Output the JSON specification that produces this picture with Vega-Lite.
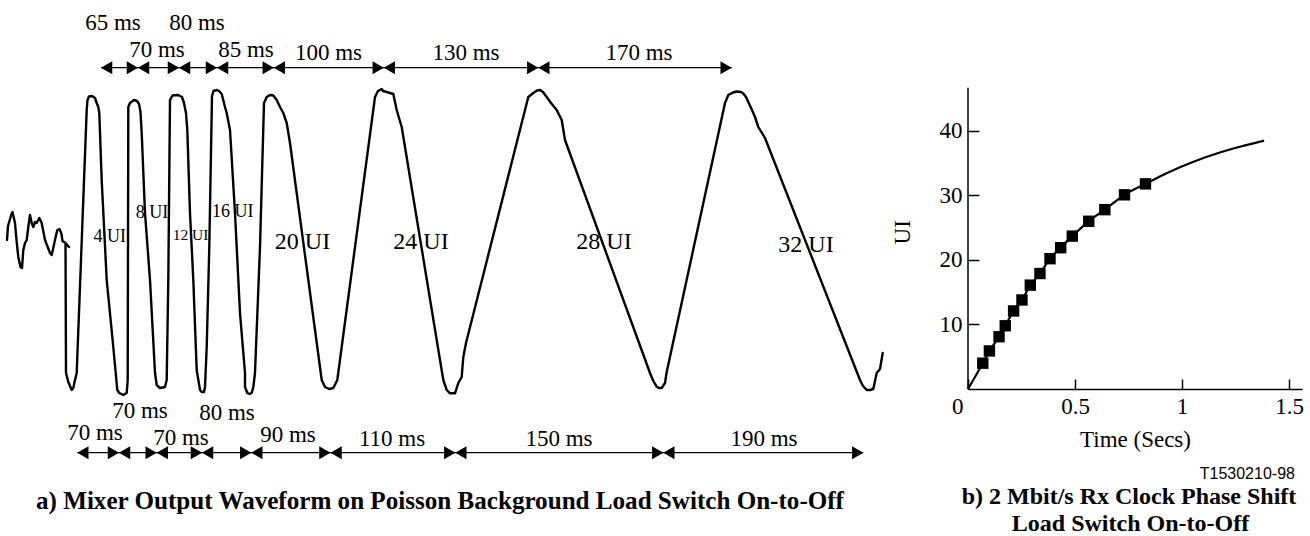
{
  "$schema": "https://vega.github.io/schema/vega-lite/v6.json",
  "background": "white",
  "padding": 0,
  "spacing": 78,
  "bounds": "flush",
  "config": {"view": {"stroke": null}, "font": "Liberation Serif"},
  "datasets": {
    "wave": [
      {"x":7,"y":240},{"x":8,"y":226},{"x":11.5,"y":214},{"x":12.5,"y":212},{"x":15,"y":223},{"x":16.5,"y":240},{"x":18.3,"y":257},{"x":20.5,"y":267},{"x":22,"y":268},{"x":23.3,"y":250},{"x":25,"y":243},{"x":26.7,"y":240},{"x":28.3,"y":227},{"x":30,"y":215},{"x":31.7,"y":223},{"x":33.3,"y":227},{"x":35,"y":222},{"x":36.7,"y":223},{"x":39.3,"y":218},{"x":41.7,"y":223},{"x":45,"y":240},{"x":50,"y":253},{"x":51.7,"y":255},{"x":55,"y":240},{"x":57.3,"y":230},{"x":59.5,"y":229},{"x":61.5,"y":234},{"x":62.5,"y":241},{"x":65.5,"y":243},{"x":69,"y":247},{"x":65.5,"y":243},
      {"x":66,"y":373},{"x":68.3,"y":382},{"x":71.7,"y":390},{"x":73.3,"y":388},{"x":75,"y":380},{"x":76.7,"y":373},
      {"x":86.7,"y":110},{"x":87.5,"y":100},{"x":89,"y":96.5},{"x":92,"y":96},{"x":95,"y":98},{"x":96.7,"y":103},{"x":98.3,"y":107},{"x":99.3,"y":113},
      {"x":101.7,"y":180},{"x":106.7,"y":280},{"x":113.3,"y":347},{"x":117.3,"y":390},{"x":119.3,"y":393},
      {"x":123.3,"y":395},{"x":126.7,"y":393},{"x":127.7,"y":380},
      {"x":128.3,"y":107},{"x":130,"y":103},{"x":134,"y":100},{"x":137,"y":101},{"x":139,"y":104},{"x":140.5,"y":112},{"x":141.7,"y":133},
      {"x":145,"y":213},{"x":150,"y":280},{"x":155,"y":373},{"x":156.7,"y":385},
      {"x":160,"y":388},{"x":165,"y":387},{"x":166.7,"y":380},
      {"x":168.3,"y":280},{"x":170,"y":100},{"x":172.5,"y":95.5},{"x":178,"y":95},{"x":182,"y":97},{"x":184,"y":103},{"x":186,"y":113},{"x":187.3,"y":130},
      {"x":190,"y":213},{"x":193.3,"y":280},{"x":196.7,"y":370},{"x":200,"y":390},
      {"x":201.7,"y":392},{"x":204,"y":392},{"x":205,"y":387},
      {"x":206.7,"y":347},{"x":209.3,"y":247},{"x":212,"y":96},{"x":213.5,"y":91},{"x":217,"y":90},{"x":219,"y":91},{"x":221.7,"y":94},{"x":225,"y":107},{"x":226.7,"y":113},{"x":230,"y":130},
      {"x":235,"y":213},{"x":240,"y":313},{"x":245,"y":373},{"x":245,"y":387},{"x":247.3,"y":393},
      {"x":249.5,"y":394},{"x":251.7,"y":393},{"x":253.3,"y":387},
      {"x":255,"y":373},{"x":260,"y":247},{"x":264,"y":103},{"x":266.7,"y":97},{"x":270,"y":95},{"x":273.3,"y":95.5},{"x":276.7,"y":100},{"x":280,"y":107},{"x":283.3,"y":113},{"x":286.7,"y":123},{"x":290,"y":143},
      {"x":321.7,"y":380},{"x":325,"y":387},{"x":329,"y":389},{"x":333.3,"y":388},{"x":337.3,"y":380},
      {"x":375,"y":97},{"x":378,"y":91},{"x":381.7,"y":89},{"x":383,"y":91},{"x":386.7,"y":92},{"x":390,"y":93},{"x":393.3,"y":94},{"x":396.7,"y":110},{"x":401.7,"y":127},
      {"x":443.3,"y":380},{"x":446.7,"y":390},{"x":450,"y":393.3},{"x":455,"y":393.3},{"x":458.3,"y":383},{"x":461.7,"y":377},{"x":463.3,"y":357},{"x":466,"y":343},
      {"x":528.3,"y":97},{"x":533.3,"y":93},{"x":537,"y":90.5},{"x":540,"y":90},{"x":543,"y":92},{"x":546.7,"y":97},{"x":551,"y":103},{"x":556.7,"y":110},{"x":561.7,"y":120},{"x":565,"y":140},
      {"x":650,"y":373},{"x":653.3,"y":381},{"x":656.7,"y":386.7},{"x":659,"y":388},{"x":661.7,"y":388},{"x":665,"y":383},{"x":666.7,"y":372},
      {"x":725,"y":103},{"x":728.3,"y":95},{"x":733,"y":92.5},{"x":736.7,"y":91.5},{"x":741,"y":92},{"x":743.3,"y":93.5},{"x":746,"y":97},{"x":748.3,"y":102},{"x":752,"y":110},{"x":755,"y":117},{"x":758.3,"y":127},{"x":765,"y":138},
      {"x":860,"y":380},{"x":863,"y":386},{"x":866.7,"y":390},{"x":870,"y":390},{"x":873.3,"y":389},{"x":876.7,"y":373},{"x":880,"y":369},{"x":882.7,"y":353}
    ],
    "arrowLines": [
      {"x":101,"x2":731.7,"y":67.7},
      {"x":77.3,"x2":863.3,"y":452.7}
    ],
    "heads": [
      {"x":101,"y":67.7,"dir":"left"},
      {"x":138,"y":67.7,"dir":"right"},{"x":138,"y":67.7,"dir":"left"},
      {"x":179,"y":67.7,"dir":"right"},{"x":179,"y":67.7,"dir":"left"},
      {"x":217,"y":67.7,"dir":"right"},{"x":217,"y":67.7,"dir":"left"},
      {"x":273.8,"y":67.7,"dir":"right"},{"x":273.8,"y":67.7,"dir":"left"},
      {"x":383.8,"y":67.7,"dir":"right"},{"x":383.8,"y":67.7,"dir":"left"},
      {"x":538.3,"y":67.7,"dir":"right"},{"x":538.3,"y":67.7,"dir":"left"},
      {"x":731.7,"y":67.7,"dir":"right"},
      {"x":77.3,"y":452.7,"dir":"left"},
      {"x":119,"y":452.7,"dir":"right"},{"x":119,"y":452.7,"dir":"left"},
      {"x":156.7,"y":452.7,"dir":"right"},{"x":156.7,"y":452.7,"dir":"left"},
      {"x":202,"y":452.7,"dir":"right"},{"x":202,"y":452.7,"dir":"left"},
      {"x":251.3,"y":452.7,"dir":"right"},{"x":251.3,"y":452.7,"dir":"left"},
      {"x":330.5,"y":452.7,"dir":"right"},{"x":330.5,"y":452.7,"dir":"left"},
      {"x":455.3,"y":452.7,"dir":"right"},{"x":455.3,"y":452.7,"dir":"left"},
      {"x":663.3,"y":452.7,"dir":"right"},{"x":663.3,"y":452.7,"dir":"left"},
      {"x":863.3,"y":452.7,"dir":"right"}
    ],
    "msLabels": [
      {"x":113,"y":30,"text":"65 ms"},
      {"x":197,"y":30,"text":"80 ms"},
      {"x":157,"y":56.7,"text":"70 ms"},
      {"x":246,"y":56.7,"text":"85 ms"},
      {"x":328.5,"y":60,"text":"100 ms"},
      {"x":466,"y":60,"text":"130 ms"},
      {"x":639,"y":60,"text":"170 ms"},
      {"x":140,"y":418.3,"text":"70 ms"},
      {"x":227,"y":420,"text":"80 ms"},
      {"x":95,"y":440,"text":"70 ms"},
      {"x":181,"y":445,"text":"70 ms"},
      {"x":288,"y":442.3,"text":"90 ms"},
      {"x":392,"y":446,"text":"110 ms"},
      {"x":559,"y":446,"text":"150 ms"},
      {"x":764,"y":446,"text":"190 ms"}
    ],
    "uiLabels": [
      {"x":109.7,"y":241.7,"ui":4,"text":"4 UI"},
      {"x":152,"y":218.3,"ui":8,"text":"8 UI"},
      {"x":190.5,"y":240,"ui":12,"text":"12 UI"},
      {"x":232.8,"y":216.7,"ui":16,"text":"16 UI"},
      {"x":302.5,"y":249.3,"ui":20,"text":"20 UI"},
      {"x":421,"y":249.3,"ui":24,"text":"24 UI"},
      {"x":604,"y":249.3,"ui":28,"text":"28 UI"},
      {"x":806,"y":251.7,"ui":32,"text":"32 UI"}
    ],
    "captionA": [
      {"x":440,"y":509,"text":"a) Mixer Output Waveform on Poisson Background Load Switch On-to-Off"}
    ],
    "curve": [
      {"t":0,"ui":0},{"t":0.069,"ui":4},{"t":0.1,"ui":5.9},{"t":0.145,"ui":8.1},{"t":0.174,"ui":9.8},{"t":0.213,"ui":12.1},{"t":0.252,"ui":13.8},{"t":0.291,"ui":16.1},{"t":0.336,"ui":17.9},{"t":0.383,"ui":20.2},{"t":0.433,"ui":21.9},{"t":0.487,"ui":23.7},{"t":0.564,"ui":26},{"t":0.639,"ui":27.8},{"t":0.731,"ui":30.1},{"t":0.829,"ui":31.8},{"t":0.93,"ui":33.5},{"t":1.05,"ui":35.2},{"t":1.18,"ui":36.7},{"t":1.3,"ui":37.8},{"t":1.383,"ui":38.5}
    ],
    "squares": [
      {"t":0.069,"ui":4},{"t":0.1,"ui":5.9},{"t":0.145,"ui":8.1},{"t":0.174,"ui":9.8},{"t":0.213,"ui":12.1},{"t":0.252,"ui":13.8},{"t":0.291,"ui":16.1},{"t":0.336,"ui":17.9},{"t":0.383,"ui":20.2},{"t":0.433,"ui":21.9},{"t":0.487,"ui":23.7},{"t":0.564,"ui":26},{"t":0.639,"ui":27.8},{"t":0.731,"ui":30.1},{"t":0.829,"ui":31.8}
    ],
    "yAxisLine": [{"t":0,"ui":0,"ui2":46.7}],
    "captionB": [
      {"t":0.752,"ui":-17.83,"text":"b) 2 Mbit/s Rx Clock Phase Shift"},
      {"t":0.759,"ui":-22.0,"text":"Load Switch On-to-Off"}
    ],
    "figId": [{"t":1.527,"ui":-14.0,"text":"T1530210-98"}],
    "yTitle": [{"t":-0.304,"ui":24.3,"text":"UI"}]
  },
  "hconcat": [
    {
      "width": 890,
      "height": 536,
      "encoding": {
        "x": {"field":"x","type":"quantitative","scale":{"domain":[0,890],"nice":false,"zero":false},"axis":null},
        "y": {"field":"y","type":"quantitative","scale":{"domain":[0,536],"nice":false,"zero":false,"reverse":true},"axis":null}
      },
      "layer": [
        {
          "data": {"name":"wave"},
          "mark": {"type":"line","color":"black","strokeWidth":2.4,"strokeJoin":"round","strokeCap":"round"},
          "encoding": {"order": {"value": null}}
        },
        {
          "data": {"name":"arrowLines"},
          "mark": {"type":"rule","color":"black","strokeWidth":1.2},
          "encoding": {"x2": {"field":"x2"}}
        },
        {
          "data": {"name":"heads"},
          "transform": [{"filter":"datum.dir == 'left'"}],
          "mark": {"type":"point","shape":"triangle-left","filled":true,"color":"black","opacity":1,"size":169,"xOffset":5.6,"strokeWidth":0}
        },
        {
          "data": {"name":"heads"},
          "transform": [{"filter":"datum.dir == 'right'"}],
          "mark": {"type":"point","shape":"triangle-right","filled":true,"color":"black","opacity":1,"size":169,"xOffset":-5.6,"strokeWidth":0}
        },
        {
          "data": {"name":"msLabels"},
          "mark": {"type":"text","font":"Liberation Serif","fontSize":23,"align":"center","baseline":"alphabetic","color":"black"},
          "encoding": {"text": {"field":"text"}}
        },
        {
          "data": {"name":"uiLabels"},
          "mark": {"type":"text","font":"Liberation Serif","align":"center","baseline":"alphabetic","color":"black"},
          "encoding": {
            "text": {"field":"text"},
            "size": {"field":"ui","type":"quantitative","scale":{"type":"threshold","domain":[12,13,18],"range":[18,15.5,18,24]},"legend":null}
          }
        },
        {
          "data": {"name":"captionA"},
          "mark": {"type":"text","font":"Liberation Serif","fontWeight":"bold","fontSize":25.1,"align":"center","baseline":"alphabetic","color":"black"},
          "encoding": {"text": {"field":"text"}}
        }
      ]
    },
    {
      "width": 334,
      "height": 389,
      "encoding": {
        "x": {"field":"t","type":"quantitative","scale":{"domain":[0,1.56],"nice":false,"zero":false}},
        "y": {"field":"ui","type":"quantitative","scale":{"domain":[0,60.3],"nice":false,"zero":false}}
      },
      "layer": [
        {
          "data": {"name":"curve"},
          "mark": {"type":"line","color":"black","strokeWidth":2.2,"interpolate":"monotone"},
          "encoding": {
            "x": {"field":"t","type":"quantitative","title":"Time (Secs)",
              "axis": {"values":[0,0.5,1,1.5],"format":"~g","domain":true,"domainColor":"black","domainWidth":1.5,"tickColor":"black","tickWidth":1.5,"tickSize":-10,"labelPadding":16,"labelFont":"Liberation Serif","labelFontSize":23,"labelColor":"black","labelAlign":{"expr":"datum.value == 0 ? 'right' : 'center'"},"labelOffset":{"expr":"datum.value == 0 ? -5 : 0"},"grid":false,"titleFont":"Liberation Serif","titleFontSize":23,"titleFontWeight":"normal","titleColor":"black","titlePadding":10}},
            "y": {"field":"ui","type":"quantitative","title":null,
              "axis": {"values":[10,20,30,40],"domain":false,"tickColor":"black","tickWidth":1.5,"tickSize":-11,"labelPadding":17,"labelFont":"Liberation Serif","labelFontSize":23,"labelColor":"black","grid":false}}
          }
        },
        {
          "data": {"name":"squares"},
          "mark": {"type":"point","shape":"square","filled":true,"color":"black","opacity":1,"size":130}
        },
        {
          "data": {"name":"yAxisLine"},
          "mark": {"type":"rule","color":"black","strokeWidth":1.5},
          "encoding": {"y2": {"field":"ui2"}}
        },
        {
          "data": {"name":"captionB"},
          "mark": {"type":"text","font":"Liberation Serif","fontWeight":"bold","fontSize":24,"align":"center","baseline":"alphabetic","color":"black"},
          "encoding": {"text": {"field":"text"}}
        },
        {
          "data": {"name":"figId"},
          "mark": {"type":"text","font":"Liberation Sans","fontSize":16,"align":"right","baseline":"alphabetic","color":"black"},
          "encoding": {"text": {"field":"text"}}
        },
        {
          "data": {"name":"yTitle"},
          "mark": {"type":"text","font":"Liberation Serif","fontSize":23,"align":"center","baseline":"middle","angle":270,"color":"black"},
          "encoding": {"text": {"field":"text"}}
        }
      ]
    }
  ]
}
